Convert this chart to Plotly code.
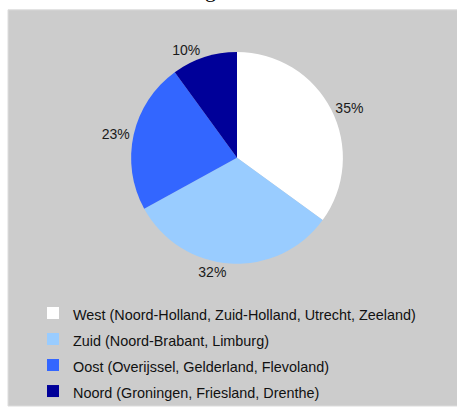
import plotly.graph_objects as go

regions = ["West (Noord-Holland, Zuid-Holland, Utrecht, Zeeland)",
           "Zuid (Noord-Brabant, Limburg)",
           "Oost (Overijssel, Gelderland, Flevoland)",
           "Noord (Groningen, Friesland, Drenthe)"]
shares = [35, 32, 23, 10]
colors = ["#FFFFFF", "#99CCFF", "#3366FF", "#000099"]

W, H = 457, 410
cx, cy, r = 237, 161, 108

legend_labels = ["<span style='font-size:14.4px'>" + t + "</span>" for t in regions]

fig = go.Figure(go.Pie(
    labels=legend_labels,
    values=shares,
    marker=dict(colors=colors, line=dict(width=0)),
    sort=False,
    direction="clockwise",
    rotation=0,
    textposition="outside",
    texttemplate="%{percent:.0%}",
    textfont=dict(family="Liberation Sans, Arial, sans-serif", size=14, color="#1a1a1a"),
    domain=dict(x=[(cx - r) / W, (cx + r) / W], y=[1 - (cy + r) / H, 1 - (cy - r) / H]),
    hoverinfo="label+percent",
))

fig.add_shape(type="rect", xref="paper", yref="paper", layer="below",
              x0=8 / W, x1=1.01, y0=-0.01, y1=1 - 10 / H,
              fillcolor="#CCCCCC", line=dict(color="#DDDDDD", width=1))

fig.add_annotation(text="g", xref="paper", yref="paper", x=210 / W, y=1,
                   xanchor="center", yanchor="bottom", yshift=-4, showarrow=False,
                   font=dict(family="Liberation Serif, Times New Roman, serif", size=22, color="#000000"))

fig.update_layout(
    width=W, height=H,
    margin=dict(l=0, r=0, t=0, b=0),
    paper_bgcolor="#FFFFFF",
    plot_bgcolor="#CCCCCC",
    showlegend=True,
    legend=dict(
        x=33 / W, xanchor="left", y=1 - 301 / H, yanchor="top",
        bgcolor="rgba(0,0,0,0)",
        font=dict(family="Liberation Sans, Arial, sans-serif", size=17.7, color="#111111"),
        itemclick=False, itemdoubleclick=False,
    ),
)

fig.write_html("out.html", config={"displayModeBar": False},
               post_script="document.body.style.margin='0';document.body.style.overflow='hidden';")
